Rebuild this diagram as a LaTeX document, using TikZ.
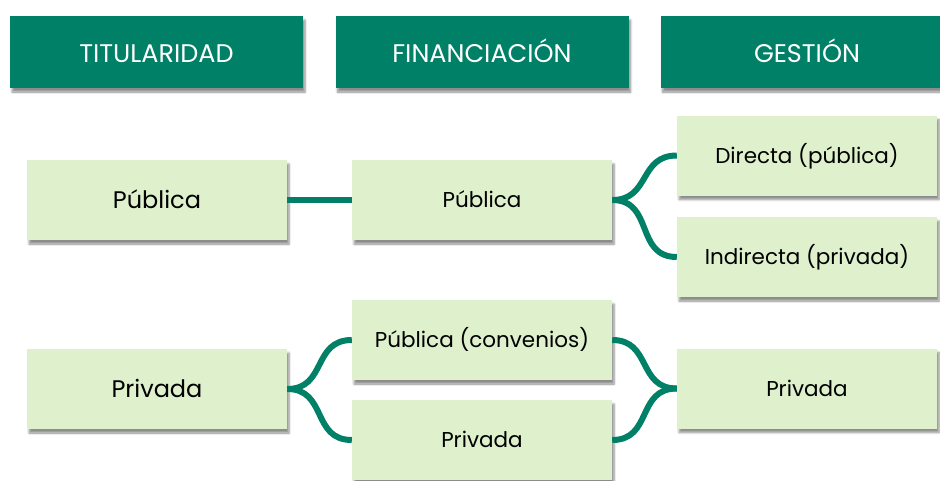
\documentclass[tikz,border=0pt]{standalone}
\usepackage{fontspec}
\setmainfont{Poppins}
\usepackage{tikz}
\usetikzlibrary{shadows,shadows.blur}
\definecolor{deepgreen}{RGB}{0,128,102}
\definecolor{palegreen}{RGB}{222,240,204}

\begin{document}
\begin{tikzpicture}[x=1pt, y=-1pt,
    head/.style={rectangle, fill=deepgreen, text=white, minimum width=293pt, minimum height=72pt, inner sep=0pt, font=\fontsize{25.5}{30}\selectfont, text height=20.5pt, text depth=0pt, blur shadow={shadow xshift=2pt, shadow yshift=-4pt, shadow blur steps=6, shadow opacity=45}},
    item/.style={rectangle, fill=palegreen, text=black, minimum width=260pt, minimum height=80pt, inner sep=0pt, font=\fontsize{21.5}{26}\selectfont, text height=15pt, text depth=0pt, blur shadow={shadow xshift=2pt, shadow yshift=-4pt, shadow blur steps=6, shadow opacity=45}},
    big/.style={font=\fontsize{24}{28}\selectfont, text height=16.8pt},
    link/.style={draw=deepgreen, line width=6pt, looseness=1.25}]
    \useasboundingbox (0,0) rectangle (940,480);

    % column titles
    \node [head] (htit) at (156.5,52) {TITULARIDAD};
    \node [head] (hfin) at (482,52) {FINANCIACIÓN};
    \node [head] (hges) at (807,52) {GESTIÓN};

    % public ownership
    \node [item, big] (tpub) at (157,200) {Pública};
    \node [item] (fpub) at (482,200) {Pública};
    \node [item] (gdir) at (807,155.5) {Directa (pública)};
    \node [item] (gind) at (807,257) {Indirecta (privada)};

    % private ownership
    \node [item, big] (tpri) at (157,389) {Privada};
    \node [item] (fconv) at (482,340) {Pública (convenios)};
    \node [item] (fpri) at (482,440) {Privada};
    \node [item] (gpri) at (807,388.5) {Privada};

    \draw [link] (tpub) -- (fpub);
    \draw [link] (fpub.east) to[out=0, in=180] (gdir.west);
    \draw [link] (fpub.east) to[out=0, in=180] (gind.west);
    \draw [link] (tpri.east) to[out=0, in=180] (fconv.west);
    \draw [link] (tpri.east) to[out=0, in=180] (fpri.west);
    \draw [link] (fconv.east) to[out=0, in=180] (gpri.west);
    \draw [link] (fpri.east) to[out=0, in=180] (gpri.west);
\end{tikzpicture}
\end{document}
